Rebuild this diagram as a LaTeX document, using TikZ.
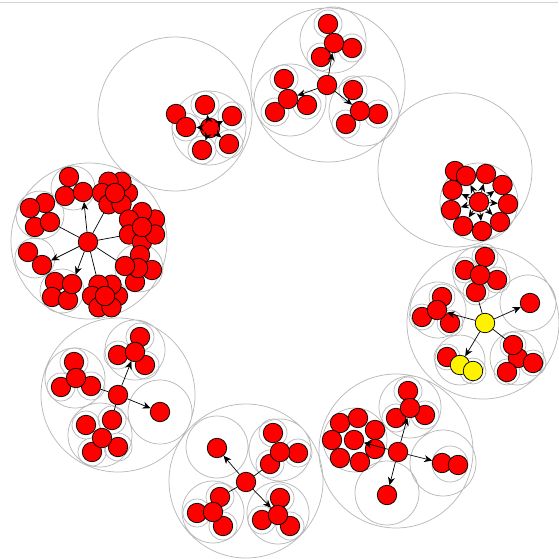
\documentclass[tikz,border=0pt]{standalone}
\usepackage{tikz}
\usetikzlibrary{arrows.meta}

\begin{document}
\begin{tikzpicture}[x=1pt, y=-1pt,
        vertex/.style={circle, draw, fill=red, minimum size=19.5pt,
                       inner sep=0pt, line width=0.75pt},
        yvertex/.style={vertex, fill=yellow},
        pack/.style={draw=gray!55, line width=0.75pt},
        link/.style={-{Stealth[length=8pt,width=7pt,inset=2.5pt]}, line width=0.7pt},
        tie/.style={line width=0.7pt}]
      \useasboundingbox (0,0) rectangle (558,559);
      \draw[gray!35] (0,2) -- (558,2);
      % packing circles
      \draw[pack] (175,114) circle (77) (209,128) circle (37);
      \draw[pack] (205,105) circle (14) (232,116) circle (14) (229,144) circle (14)
                  (202,150) circle (14) (186,127) circle (14);
      \draw[pack] (328,85) circle (77) (333,40) circle (33) (290,100) circle (36)
                  (364,111) circle (35);
      \draw[pack] (328,24) circle (14) (352,48) circle (14) (321,57) circle (14)
                  (284,79) circle (14) (275,112) circle (14) (307,105) circle (14)
                  (353,90) circle (14) (378,114) circle (14) (346,124) circle (14);
      \draw[pack] (455,170) circle (77) (479,202) circle (39);
      \draw[pack] (89,241) circle (78) (73,188) circle (22) (35,258) circle (20)
                  (40,215) circle (24) (62,291) circle (22) (139,268) circle (24);
      \draw[pack] (483,323) circle (76) (480,273) circle (27) (528,303) circle (28)
                  (438,310) circle (28) (460,360) circle (25) (517,358) circle (27);
      \draw[pack] (485,257) circle (13) (465,270) circle (13) (497,280) circle (13)
                  (476,292) circle (13) (442,297) circle (13) (422,317) circle (13)
                  (450,323) circle (13) (447,357) circle (13) (473,371) circle (13)
                  (513,345) circle (13) (533,363) circle (13) (507,372) circle (13);
      \draw[pack] (118,395) circle (77) (135,350) circle (30) (75,378) circle (30)
                  (100,435) circle (32) (160,412) circle (32);
      \draw[pack] (140,337) circle (14) (118,355) circle (14) (145,365) circle (14)
                  (74,362) circle (14) (61,387) circle (14) (91,386) circle (14)
                  (86,425) circle (14) (92,452) circle (14) (118,447) circle (14)
                  (112,420) circle (14);
      \draw[pack] (246,481) circle (77) (217,447) circle (31) (280,450) circle (31)
                  (213,512) circle (31) (278,513) circle (31);
      \draw[pack] (273,433) circle (14) (298,453) circle (14) (270,464) circle (14)
                  (197,513) circle (14) (220,497) circle (14) (223,526) circle (14)
                  (280,498) circle (14) (262,520) circle (14) (290,526) circle (14);
      \draw[pack] (396,451) circle (77) (410,407) circle (31) (355,440) circle (32)
                  (443,463) circle (33) (450,464) circle (18) (387,493) circle (32);
      \draw[pack] (408,391) circle (14) (396,418) circle (14) (425,415) circle (14);
      % top left
      \node[vertex] (a6) at (176,114) {};
      \node[vertex] (a5) at (186,127) {};
      \node[vertex] (a1) at (205,105) {};
      \node[vertex] (a2) at (232,116) {};
      \node[vertex] (a3) at (229,144) {};
      \node[vertex] (a4) at (202,150) {};
      \node[vertex] (a0) at (210,128) {};
      % top
      \node[vertex] (b11) at (328,24) {};
      \node[vertex] (b12) at (352,48) {};
      \node[vertex] (b13) at (321,57) {};
      \node[vertex] (b1)  at (334,43) {};
      \node[vertex] (b21) at (284,79) {};
      \node[vertex] (b22) at (275,112) {};
      \node[vertex] (b23) at (307,105) {};
      \node[vertex] (b2)  at (288,99) {};
      \node[vertex] (b31) at (353,90) {};
      \node[vertex] (b32) at (378,114) {};
      \node[vertex] (b33) at (346,124) {};
      \node[vertex] (b3)  at (360,111) {};
      \node[vertex] (b0)  at (327,85) {};
      % top right
      \node[vertex] (c10) at (455,171) {};
      \node[vertex] (c1) at (508,204) {};
      \node[vertex] (c2) at (502.5,185) {};
      \node[vertex] (c3) at (486,174) {};
      \node[vertex] (c4) at (466,176) {};
      \node[vertex] (c5) at (452.5,190) {};
      \node[vertex] (c6) at (451,210) {};
      \node[vertex] (c7) at (463,226) {};
      \node[vertex] (c8) at (482,231) {};
      \node[vertex] (c9) at (500,222) {};
      \node[vertex] (c0) at (479,202) {};
      % left
      \node[vertex] (d11) at (69,177) {};
      \node[vertex] (d12) at (65,196) {};
      \node[vertex] (d1)  at (83,192) {};
      \node[vertex] (d21) at (128,193) {};
      \node[vertex] (d22) at (121.5,181.7) {};
      \node[vertex] (d23) at (108.5,181.7) {};
      \node[vertex] (d24) at (102,193) {};
      \node[vertex] (d25) at (108.5,204.3) {};
      \node[vertex] (d26) at (121.5,204.3) {};
      \node[vertex] (d2)  at (115,193) {};
      \node[vertex] (d31) at (155,219.5) {};
      \node[vertex] (d32) at (142,212) {};
      \node[vertex] (d33) at (129,219.5) {};
      \node[vertex] (d34) at (129,234.5) {};
      \node[vertex] (d35) at (142,242) {};
      \node[vertex] (d36) at (155,234.5) {};
      \node[vertex] (d3)  at (142,227) {};
      \node[vertex] (d41) at (140,255) {};
      \node[vertex] (d43) at (152,270) {};
      \node[vertex] (d44) at (135,282) {};
      \node[vertex] (d4)  at (138,268) {};
      \node[vertex] (d42) at (125,266) {};
      \node[vertex] (d51) at (118,296) {};
      \node[vertex] (d52) at (111.5,284.7) {};
      \node[vertex] (d53) at (98.5,284.7) {};
      \node[vertex] (d54) at (92,296) {};
      \node[vertex] (d55) at (98.5,307.3) {};
      \node[vertex] (d56) at (111.5,307.3) {};
      \node[vertex] (d5)  at (105,296) {};
      \node[vertex] (d61) at (55,282) {};
      \node[vertex] (d63) at (52,297) {};
      \node[vertex] (d64) at (68,300) {};
      \node[vertex] (d62) at (72,284) {};
      \node[vertex] (d71) at (28,252) {};
      \node[vertex] (d72) at (42,265) {};
      \node[vertex] (d81) at (45,203) {};
      \node[vertex] (d82) at (30,208) {};
      \node[vertex] (d84) at (35,227) {};
      \node[vertex] (d83) at (50,222) {};
      \node[vertex] (d0)  at (88,242) {};
      % right
      \node[vertex] (e11) at (485,257) {};
      \node[vertex] (e12) at (465,270) {};
      \node[vertex] (e13) at (497,280) {};
      \node[vertex] (e14) at (476,292) {};
      \node[vertex] (e1)  at (480,275) {};
      \node[vertex] (e2)  at (530,303) {};
      \node[vertex] (e31) at (442,297) {};
      \node[vertex] (e32) at (422,317) {};
      \node[vertex] (e33) at (450,323) {};
      \node[vertex] (e3)  at (437,310) {};
      \node[vertex] (e41) at (447,357) {};
      \node[yvertex] (e4)  at (460,365) {};
      \node[yvertex] (e42) at (473,371) {};
      \node[vertex] (e52) at (518,358) {};
      \node[vertex] (e53) at (533,363) {};
      \node[vertex] (e54) at (507,372) {};
      \node[vertex] (e51) at (513,345) {};
      \node[yvertex] (e0) at (485,323) {};
      % lower left
      \node[vertex] (f11) at (140,337) {};
      \node[vertex] (f12) at (118,355) {};
      \node[vertex] (f13) at (145,365) {};
      \node[vertex] (f1)  at (135,352) {};
      \node[vertex] (f21) at (74,362) {};
      \node[vertex] (f22) at (61,387) {};
      \node[vertex] (f23) at (91,386) {};
      \node[vertex] (f2)  at (76,378) {};
      \node[vertex] (f32) at (86,425) {};
      \node[vertex] (f33) at (92,452) {};
      \node[vertex] (f34) at (118,447) {};
      \node[vertex] (f31) at (112,420) {};
      \node[vertex] (f3)  at (102,438) {};
      \node[vertex] (f4)  at (160,412) {};
      \node[vertex] (f0)  at (118,395) {};
      % bottom
      \node[vertex] (g1)  at (217,448) {};
      \node[vertex] (g21) at (273,433) {};
      \node[vertex] (g23) at (298,453) {};
      \node[vertex] (g2)  at (270,464) {};
      \node[vertex] (g22) at (280,452) {};
      \node[vertex] (g31) at (197,513) {};
      \node[vertex] (g33) at (223,526) {};
      \node[vertex] (g3)  at (220,497) {};
      \node[vertex] (g32) at (213,512) {};
      \node[vertex] (g41) at (280,498) {};
      \node[vertex] (g42) at (262,520) {};
      \node[vertex] (g43) at (290,526) {};
      \node[vertex] (g4)  at (278,515) {};
      \node[vertex] (g0)  at (246,482) {};
      % lower right
      \node[vertex] (h11) at (408,391) {};
      \node[vertex] (h12) at (396,418) {};
      \node[vertex] (h13) at (425,415) {};
      \node[vertex] (h1)  at (410,408) {};
      \node[vertex] (h21) at (340,423) {};
      \node[vertex] (h22) at (358,418) {};
      \node[vertex] (h23) at (375,430) {};
      \node[vertex] (h24) at (332,440) {};
      \node[vertex] (h25) at (375,449) {};
      \node[vertex] (h26) at (340,458) {};
      \node[vertex] (h27) at (360,462) {};
      \node[vertex] (h2)  at (354,440) {};
      \node[vertex] (h3)  at (442,463) {};
      \node[vertex] (h31) at (458,465) {};
      \node[vertex] (h4)  at (387,495) {};
      \node[vertex] (h0)  at (398,452) {};
      % edges
      \draw[link] (a0) -- (a1);
      \draw[link] (a0) -- (a2);
      \draw[link] (a0) -- (a3);
      \draw[link] (a0) -- (a4);
      \draw[link] (a0) -- (a5);
      \draw[link] (b0) -- (b1);
      \draw[link] (b0) -- (b2);
      \draw[link] (b0) -- (b3);
      \draw[link] (c0) -- (c1);
      \draw[link] (c0) -- (c2);
      \draw[link] (c0) -- (c3);
      \draw[link] (c0) -- (c4);
      \draw[link] (c0) -- (c5);
      \draw[link] (c0) -- (c6);
      \draw[link] (c0) -- (c7);
      \draw[link] (c0) -- (c8);
      \draw[link] (c0) -- (c9);
      \draw[link] (d0) -- (d1);
      \draw[tie]  (d0) -- (d25);
      \draw[tie]  (d0) -- (d34);
      \draw[tie]  (d0) -- (d42);
      \draw[tie]  (d0) -- (d53);
      \draw[link] (d0) -- (d62);
      \draw[link] (d0) -- (d72);
      \draw[tie]  (d0) -- (d83);
      \draw[tie]  (e0) -- (e14);
      \draw[link] (e0) -- (e2);
      \draw[link] (e0) -- (e3);
      \draw[link] (e0) -- (e4);
      \draw[tie]  (e0) -- (e51);
      \draw[link] (f0) -- (f1);
      \draw[tie]  (f0) -- (f23);
      \draw[tie]  (f0) -- (f31);
      \draw[link] (f0) -- (f4);
      \draw[link] (g0) -- (g1);
      \draw[tie]  (g0) -- (g2);
      \draw[tie]  (g0) -- (g3);
      \draw[link] (g0) -- (g4);
      \draw[link] (h0) -- (h1);
      \draw[link] (h0) -- (h2);
      \draw[link] (h0) -- (h3);
      \draw[link] (h0) -- (h4);
    \end{tikzpicture}
\end{document}
